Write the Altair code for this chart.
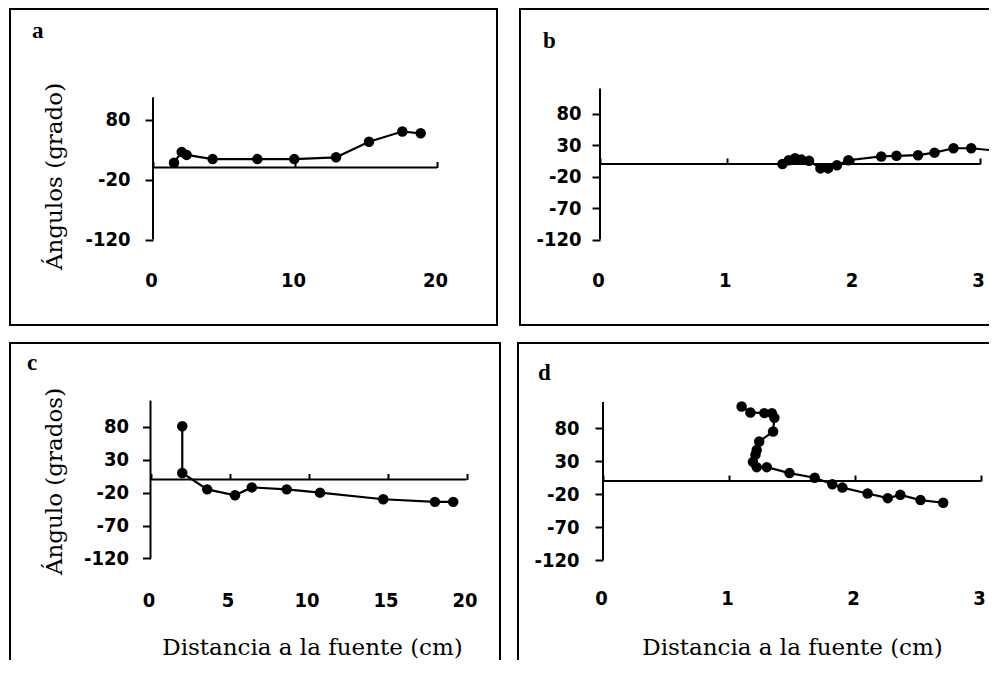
import altair as alt
import pandas as pd

TICK_FONT = "DejaVu Sans Condensed, DejaVu Sans"
TITLE_FONT = "DejaVu Serif"
LETTER_FONT = "Liberation Serif"

# ---------------- data ----------------
# panel a
a_x = [1.48, 2.02, 2.37, 4.20, 7.35, 9.95, 12.89, 15.21, 17.56, 18.85]
a_y = [8, 26, 21, 14, 14, 14, 17, 43, 60, 57]
# panel b
b_x = [1.44, 1.49, 1.54, 1.59, 1.65, 1.74, 1.80, 1.87, 1.96, 2.22, 2.34, 2.51, 2.64, 2.79, 2.93]
b_y = [0, 6, 9, 7, 5, -7, -7, -2, 6, 12, 13, 14, 18, 25, 25]
b_tail_x = [3.08]
b_tail_y = [22]
# panel c
c_x = [2.01, 2.01, 3.59, 5.35, 6.41, 8.62, 10.73, 14.73, 18.0, 19.16]
c_y = [81, 10, -15, -24, -12, -15, -20, -30, -34, -34]
# panel d
d_x = [1.10, 1.17, 1.28, 1.34, 1.36, 1.35, 1.24, 1.22, 1.21, 1.19, 1.22, 1.30,
       1.48, 1.68, 1.82, 1.90, 2.10, 2.26, 2.36, 2.52, 2.70]
d_y = [113, 104, 103, 103, 96, 75, 60, 47, 40, 29, 21, 21,
       12, 5, -5, -10, -19, -26, -21, -29, -33]

ticks_a_x = [0, 10, 20]
ticks_a_y = [-120, -20, 80]
ticks_b_x = [0, 1, 2, 3]
ticks_y = [-120, -70, -20, 30, 80]
ticks_c_x = [0, 5, 10, 15, 20]

ytitle_a = "Ángulos (grado)"
ytitle_c = "Ángulo (grados)"
xtitle = "Distancia a la fuente (cm)"


def panel(letter, px, py, tail_x, tail_y, W, H, bx0, xs, by0, ys, xmax, ymax,
          xticks, yticks, ylab_pad, lab_center, letter_dx, letter_base,
          ytitle=None, ytitle_x=0, ytitle_y=0, xt=None, xt_x=0, xt_y=0):
    xdom = [-bx0 / xs, (W - bx0) / xs]
    ydom = [(by0 - H) / ys, by0 / ys]
    xscale = alt.Scale(domain=xdom, nice=False, zero=False)
    yscale = alt.Scale(domain=ydom, nice=False, zero=False)

    pts = pd.DataFrame({"x": px, "y": py})
    lx = list(px) + list(tail_x)
    ly = list(py) + list(tail_y)
    line_df = pd.DataFrame({"x": lx, "y": ly, "i": list(range(len(lx)))})
    yline = pd.DataFrame({"x": [0], "y": [-120], "y2": [ymax]})
    xline = pd.DataFrame({"x": [0], "x2": [xmax], "y": [0]})

    yax = dict(orient="left", offset=-bx0, values=yticks, domain=False, grid=False,
               tickSize=8, tickWidth=2, tickColor="black", labelPadding=ylab_pad,
               labelFont=TICK_FONT, labelFontSize=20, labelFontWeight="bold",
               labelColor="black",
               labelExpr="'' + datum.value", labelOverlap=False, title=ytitle)
    if ytitle:
        yax.update(titleX=ytitle_x, titleY=ytitle_y, titleAngle=270,
                   titleBaseline="alphabetic", titleAlign="center",
                   titleFont=TITLE_FONT, titleFontSize=23, titleFontWeight="normal",
                   titleColor="black")
    bax = dict(orient="bottom", offset=lab_center - H, values=xticks, domain=False,
               ticks=False, tickSize=0, labelPadding=0, labelBaseline="middle",
               labelOffset=-2, labelFont=TICK_FONT, labelFontSize=20,
               labelFontWeight="bold", labelColor="black",
               labelFlush=False, labelOverlap=False, grid=False, title=xt)
    if xt:
        bax.update(titleX=xt_x, titleY=xt_y, titleBaseline="alphabetic", titleAlign="center",
                   titleFont=TITLE_FONT, titleFontSize=23, titleFontWeight="normal",
                   titleColor="black")
    tax = alt.Axis(orient="top", offset=-by0, values=xticks, domain=False, labels=False,
                   tickSize=6, tickWidth=2, tickColor="black", grid=False, title=None)

    l1 = alt.Chart(yline).mark_rule(color="black", strokeWidth=2).encode(
        x=alt.X("x:Q", scale=xscale, axis=alt.Axis(**bax)),
        y=alt.Y("y:Q", scale=yscale, axis=alt.Axis(**yax)),
        y2="y2:Q",
    )
    l2 = alt.Chart(xline).mark_rule(color="black", strokeWidth=2).encode(
        x=alt.X("x:Q", scale=xscale, axis=tax),
        x2="x2:Q",
        y=alt.Y("y:Q", scale=yscale, axis=None),
    )
    l3 = alt.Chart(line_df).mark_line(color="black", strokeWidth=2.2).encode(
        x=alt.X("x:Q", scale=xscale, axis=None),
        y=alt.Y("y:Q", scale=yscale, axis=None),
        order="i:Q",
    )
    l4 = alt.Chart(pts).mark_point(filled=True, size=110, color="black", opacity=1).encode(
        x=alt.X("x:Q", scale=xscale, axis=None),
        y=alt.Y("y:Q", scale=yscale, axis=None),
    )
    l5 = alt.Chart(pd.DataFrame({"t": [letter]})).mark_text(
        align="left", baseline="alphabetic", font=LETTER_FONT, fontSize=23,
        fontWeight="bold", color="black",
    ).encode(text="t:N", x=alt.value(letter_dx), y=alt.value(letter_base))
    return alt.layer(l1, l2, l3, l4, l5).resolve_axis(x="independent", y="independent").properties(
        width=W, height=H,
    )


# view boxes (page coords): a (10,9) 487x316, b (520,9), c (10,343) 490 wide, d (518,343)
pa = panel("a", a_x, a_y, [], [], 487, 316, 143, 14.2, 158.5, 0.6, 20, 117,
           ticks_a_x, ticks_a_y, 15, 271, 22, 29,
           ytitle=ytitle_a, ytitle_x=(61 - 10) - 143, ytitle_y=167)
pb = panel("b", b_x, b_y, b_tail_x, b_tail_y, 480, 316, 80, 126.7, 155, 0.63, 3, 120,
           ticks_b_x, ticks_y, 11, 271, 23, 39)
pc = panel("c", c_x, c_y, [], [], 490, 347, 140.5, 15.8, 136.5, 0.658, 20, 120,
           ticks_c_x, ticks_y, 14, 257, 17, 27,
           ytitle=ytitle_c, ytitle_x=(61 - 10) - 140.5, ytitle_y=138,
           xt=xtitle, xt_x=302, xt_y=54)
pd_ = panel("d", d_x, d_y, [], [], 482, 347, 85, 126, 138, 0.659, 3, 120,
            ticks_b_x, ticks_y, 16, 255, 20, 37,
            xt=xtitle, xt_x=274, xt_y=56)

row1 = alt.hconcat(pa, pb, spacing=23, bounds="flush")
row2 = alt.hconcat(pc, pd_, spacing=18, bounds="flush")
chart = alt.vconcat(row1, row2, spacing=16).properties(
    padding={"left": 1, "top": 0, "right": -12, "bottom": -31},
    background="white",
).configure_view(stroke="black", strokeWidth=2)

chart.save("out.html", embed_options={"renderer": "svg", "actions": False})
